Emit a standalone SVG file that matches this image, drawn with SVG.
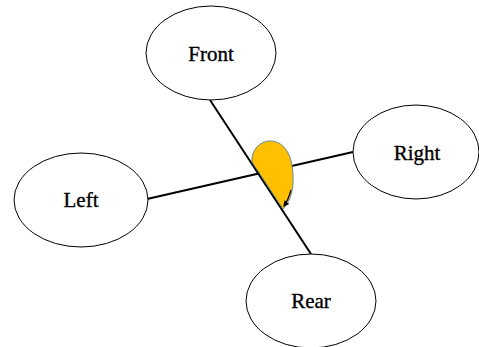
<svg xmlns="http://www.w3.org/2000/svg" width="479" height="347" viewBox="0 0 479 347">
  <defs>
    <style>
      .node ellipse { fill: #ffffff; stroke: #000000; stroke-width: 1; }
      .node text { font-family: "Liberation Serif", "Times New Roman", serif; font-size: 21px; fill: #000000; stroke: #000000; stroke-width: 0.35; text-anchor: middle; }
      .conn { stroke: #000000; stroke-width: 2; fill: none; }
    </style>
    <marker id="arrow" viewBox="0 0 10 10" refX="8" refY="5" markerWidth="5" markerHeight="5" orient="auto">
      <path d="M0,0 L10,5 L0,10 Z" fill="#000000"/>
    </marker>
  </defs>
  <rect width="479" height="347" fill="#ffffff"/>

  <!-- axis lines -->
  <g id="connectors">
    <line class="conn" x1="210" y1="100" x2="311" y2="254"/>
    <line class="conn" x1="147" y1="199" x2="353" y2="152"/>
  </g>

  <!-- rotation marker -->
  <g id="rotation">
    <path d="M252,162 C250,139 285,128 292,165 C295,185 292,200 283,209 Z" fill="#ffc000" stroke="#41719c" stroke-width="0.8"/>
    <path d="M291,190 C289,197 287,202 284,206" fill="none" stroke="#000000" stroke-width="1.2" marker-end="url(#arrow)"/>
  </g>

  <g id="front" class="node">
    <ellipse cx="211" cy="53" rx="65" ry="47"/>
    <text x="211" y="61">Front</text>
  </g>
  <g id="left" class="node">
    <ellipse cx="81" cy="200" rx="67" ry="47"/>
    <text x="81" y="207">Left</text>
  </g>
  <g id="right" class="node">
    <ellipse cx="416" cy="152" rx="63" ry="47"/>
    <text x="417" y="160">Right</text>
  </g>
  <g id="rear" class="node">
    <ellipse cx="311" cy="301" rx="65" ry="47"/>
    <text x="311" y="308">Rear</text>
  </g>
</svg>
